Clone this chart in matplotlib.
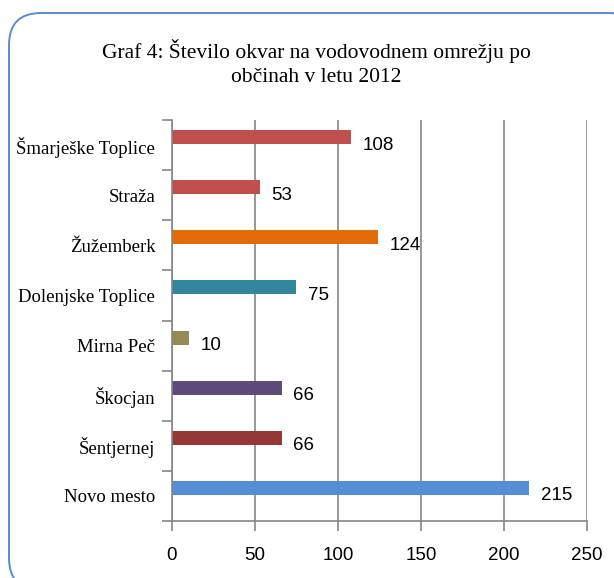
import matplotlib.pyplot as plt
from matplotlib.patches import FancyBboxPatch

# data, bottom to top as drawn
municipalities = ["Novo mesto", "Šentjernej", "Škocjan", "Mirna Peč",
                  "Dolenjske Toplice", "Žužemberk", "Straža", "Šmarješke Toplice"]
failures = [215, 66, 66, 10, 75, 124, 53, 108]
bar_colors = ["#558ED5", "#953735", "#604A7B", "#948A54",
              "#31859C", "#E36C09", "#C0504D", "#C0504D"]
x_ticks = [0, 50, 100, 150, 200, 250]
title = "Graf 4: Število okvar na vodovodnem omrežju po\nobčinah v letu 2012"

LABEL_FONT = ["Liberation Serif", "DejaVu Serif"]
NUM_FONT = ["Liberation Sans Narrow", "Liberation Sans", "DejaVu Sans"]

fig = plt.figure(figsize=(6.14, 5.78), dpi=100)

# rounded frame around the chart (runs off the right and bottom edges)
frame = FancyBboxPatch((0.09, -0.12), 6.35, 5.77,
                       boxstyle="round,pad=0,rounding_size=0.32",
                       transform=fig.dpi_scale_trans, fill=False,
                       edgecolor="#5B8BCB", linewidth=1.4, clip_on=False)
fig.patches.append(frame)

fig.text(0.515, 0.891, title, ha="center", va="center", fontsize=15.5,
         family=LABEL_FONT, linespacing=1.35)

ax = fig.add_axes([0.2801, 0.0986, 0.6759, 0.6938])
ypos = list(range(len(municipalities)))
ax.barh([y + 0.16 for y in ypos], failures, height=0.28, color=bar_colors)

for y, v in zip(ypos, failures):
    ax.text(v + 7, y, str(v), va="center", ha="left", fontsize=13.5, family=NUM_FONT)

ax.set_xlim(0, 250)
ax.set_ylim(-0.5, len(municipalities) - 0.5)
ax.set_xticks(x_ticks)
ax.set_xticklabels([str(t) for t in x_ticks], family=NUM_FONT, fontsize=13.5)
ax.set_yticks(ypos)
ax.set_yticklabels(municipalities, family=LABEL_FONT, fontsize=13.5)
# tick marks sit between categories
ax.set_yticks([y - 0.5 for y in ypos] + [len(ypos) - 0.5], minor=True)
ax.tick_params(axis="y", which="major", length=0, pad=12)
ax.tick_params(axis="y", which="minor", length=7, color="#868686", width=1.2)
ax.tick_params(axis="x", length=7, color="#868686", width=1.2, pad=12)

ax.grid(axis="x", color="#868686", linewidth=1.2)
ax.set_axisbelow(True)
for side in ["top", "right"]:
    ax.spines[side].set_visible(False)
for side in ["left", "bottom"]:
    ax.spines[side].set_color("#868686")
    ax.spines[side].set_linewidth(1.2)

plt.savefig("out.png", dpi=100)
